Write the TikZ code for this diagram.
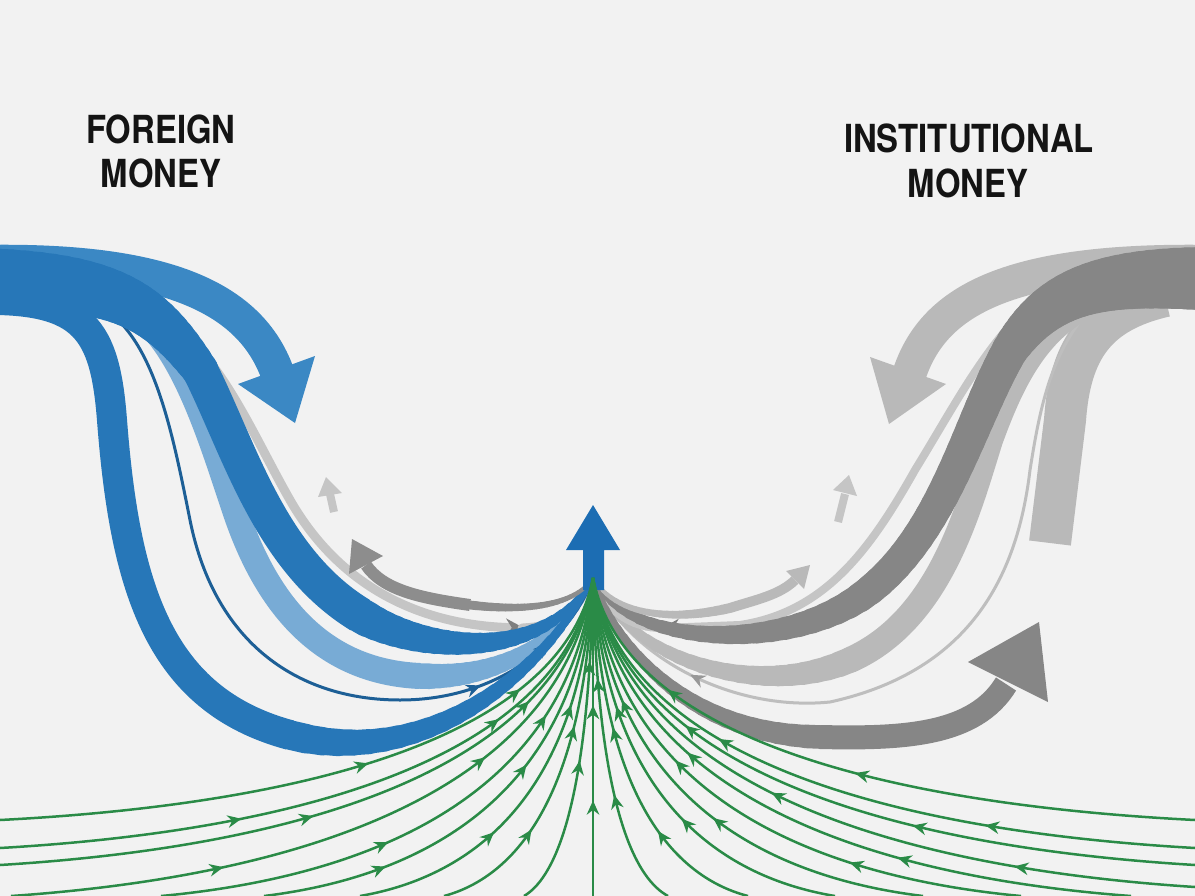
\documentclass[tikz,border=0pt]{standalone}
\usepackage{fontspec}
\newfontfamily\labelfont[FakeStretch=0.85]{TeX Gyre Heros}
\usetikzlibrary{arrows.meta, decorations.markings}
\usepackage{xcolor}

\definecolor{paper}{HTML}{F2F2F2}
\definecolor{ink}{HTML}{141414}
\definecolor{blueTop}{HTML}{3B88C4}
\definecolor{blueDeep}{HTML}{2777B8}
\definecolor{blueSoft}{HTML}{78ABD5}
\definecolor{blueLine}{HTML}{1D5F96}
\definecolor{blueUp}{HTML}{1C6DB3}
\definecolor{greySoft}{HTML}{C5C5C5}
\definecolor{greyThin}{HTML}{BEBEBE}
\definecolor{greyMid}{HTML}{8D8D8D}
\definecolor{greyPale}{HTML}{B9B9B9}
\definecolor{greyDeep}{HTML}{868686}
\definecolor{tipGrey}{HTML}{7F7F7F}
\definecolor{flowGreen}{HTML}{2A8B47}

% band whose width runs from #2 to #3 (pixels) along one curve #4
\newcommand{\flowseg}[4]{%
  \foreach \k in {1,...,24}{%
    \pgfmathsetmacro{\ta}{(\k-1)/24}%
    \pgfmathsetmacro{\tb}{\k/24}%
    \pgfmathsetmacro{\wk}{0.2*(#2+(#3-#2)*(\k-0.5)/24)}%
    \path #4 coordinate[pos=\ta] (fa) coordinate[pos=\tb] (fb);%
    \draw[#1, line width=\wk mm, line cap=round] (fa) -- (fb);%
  }}

\begin{document}
\begin{tikzpicture}[x=0.2mm, y=-0.2mm,
        wpx/.style={line width=#1*0.2mm},
        headline/.style={font={\labelfont\bfseries\fontsize{22}{26}\selectfont}, text=ink, inner sep=0pt, anchor=base},
        flowtip/.tip={Stealth[length=2.8mm, width=2.5mm]},
        twotips/.style n args={3}{decoration={markings, mark=at position #1 with {\arrow{#3}}, mark=at position #2 with {\arrow{#3}}}, postaction={decorate}},
        onetip/.style 2 args={decoration={markings, mark=at position #1 with {\arrow{#2}}}, postaction={decorate}},
        greenflow/.style 2 args={flowGreen, line width=0.5mm, twotips={#1}{#2}{flowtip}}
    ]
        \useasboundingbox (0,0) rectangle (1195,896);
        \fill[paper] (0,0) rectangle (1195,896);
        \clip (0,0) rectangle (1195,896);
        \coordinate (hub) at (593,578);

        % Institutional side
        \draw[greyPale, wpx=42] (1165,296) .. controls (1095,312) and (1070,350) .. (1065,420) -- (1050,543);
        \draw[greyThin, wpx=3, onetip={0.82}{Stealth[length=3mm, width=2.6mm, color=greyThin!80!black]}] (1083,318) .. controls (1048,360) and (1038,420) .. (1030,470) .. controls (1018,570) and (975,670) .. (830,702) .. controls (730,712) and (625,655) .. (hub);
        \draw[greyPale, wpx=26, line cap=round] (1088,305) .. controls (1035,330) and (1010,385) .. (990,440) .. controls (968,510) and (940,620) .. (850,660);
        \flowseg{greyPale}{26}{4}{(850,660) .. controls (760,700) and (630,662) .. (hub)}
        \draw[greySoft, wpx=8, -{Stealth[length=3.4mm, width=3.4mm, color=tipGrey]}] (1035,300) .. controls (985,345) and (955,405) .. (915,470) .. controls (870,550) and (825,612) .. (740,625) -- (662,628);
        \flowseg{greySoft}{8}{3}{(665,628) .. controls (625,630) and (600,605) .. (hub)}
        \draw[greyPale, wpx=34] (1215,262) .. controls (1010,258) and (935,300) .. (910,372);
        \fill[greyPale] (870,357) -- (946,384) -- (889,424) -- cycle;
        \flowseg{greyDeep}{64}{36}{(1215,279) .. controls (1100,275) and (1050,290) .. (1010,350)}
        \flowseg{greyDeep}{36}{30}{(1010,350) .. controls (970,420) and (945,530) .. (870,590)}
        \flowseg{greyDeep}{30}{4}{(870,590) .. controls (790,655) and (625,648) .. (hub)}
        \flowseg{greyPale}{3}{10}{(hub) .. controls (615,615) and (670,622) .. (730,608)}
        \draw[greyPale, wpx=10] (730,608) .. controls (755,600) and (780,595) .. (795,580);
        \fill[greyPale] (786,571) -- (804,589) -- (810,565) -- cycle;
        \flowseg{greyDeep}{4}{24}{(hub) .. controls (620,660) and (700,735) .. (820,737)}
        \draw[greyDeep, wpx=24] (820,737) .. controls (905,739) and (975,735) .. (1006,684);
        \fill[greyDeep] (968,662) -- (1048,702) -- (1039,622) -- cycle;
        \draw[greySoft, wpx=8] (838,522) -- (845,494);
        \fill[greySoft] (833,490) -- (857,496) -- (849,475) -- cycle;

        % Foreign side
        \draw[greySoft, wpx=9, -{Stealth[length=3.6mm, width=3.6mm, color=tipGrey]}] (150,305) .. controls (220,350) and (250,430) .. (290,500) .. controls (330,570) and (400,625) .. (524,628);
        \flowseg{greySoft}{9}{3}{(522,628) .. controls (562,626) and (586,605) .. (hub)}
        \draw[blueSoft, wpx=26] (110,298) .. controls (175,320) and (205,420) .. (235,510) .. controls (270,615) and (330,672) .. (420,676);
        \flowseg{blueSoft}{26}{4}{(420,676) .. controls (500,680) and (565,640) .. (hub)}
        \draw[blueLine, wpx=3, twotips={0.8}{0.9}{Stealth[length=3mm, width=2.6mm]}] (85,300) .. controls (150,320) and (170,420) .. (190,520) .. controls (215,645) and (300,700) .. (400,700) .. controls (500,700) and (570,640) .. (hub);
        \draw[blueDeep, wpx=30] (-20,300) .. controls (85,298) and (105,330) .. (112,420) .. controls (125,590) and (160,700) .. (290,735);
        \flowseg{blueDeep}{30}{4}{(290,735) .. controls (420,770) and (540,680) .. (hub)}
        \draw[blueTop, wpx=34] (-20,262) .. controls (170,258) and (250,300) .. (277,372);
        \fill[blueTop] (238,384) -- (315,356) -- (295,423) -- cycle;
        \flowseg{blueDeep}{64}{36}{(-20,280) .. controls (110,280) and (150,300) .. (200,370)}
        \draw[blueDeep, wpx=36] (200,370) .. controls (240,450) and (270,560) .. (360,615);
        \flowseg{blueDeep}{36}{4}{(360,615) .. controls (420,652) and (545,665) .. (hub)}
        \flowseg{greyMid}{3}{9}{(hub) .. controls (575,605) and (530,612) .. (470,605)}
        \draw[greyMid, wpx=12] (470,605) .. controls (420,598) and (383,590) .. (366,565);
        \fill[greyMid] (349,574) -- (383,556) -- (352,539) -- cycle;
        \draw[greySoft, wpx=8] (334,512) -- (330,494);
        \fill[greySoft] (318,497) -- (342,493) -- (326,477) -- cycle;

        % Centre arrow
        \fill[blueUp] (583,590) -- (583,550) -- (566,550) -- (593,505) -- (620,550) -- (604,550) -- (604,590) -- cycle;

        % Green inflow
        \foreach \ex/\ey/\ma/\mb in {0/820/0.55/0.8, 0/848/0.35/0.75, 0/865/0.45/0.8, 11/896/0.3/0.7, 161/896/0.4/0.75,
                264/896/0.25/0.6, 360/896/0.35/0.7, 444/896/0.3/0.6, 524/896/0.45/0.75, 593/896/0.3/0.6,
                668/896/0.35/0.7, 748/896/0.3/0.6, 835/896/0.4/0.7, 923/896/0.45/0.75, 1021/896/0.3/0.65,
                1131/896/0.35/0.7, 1195/887/0.25/0.6, 1195/865/0.4/0.75, 1195/848/0.3/0.7, 1195/820/0.5/0.8}{
            \draw[greenflow={\ma}{\mb}] (\ex,\ey) .. controls ({593+0.6*(\ex-593)},{\ey-0.05*(\ey-575)}) and ({593+0.06*(\ex-593)},{575+0.75*(\ey-575)}) .. (hub);
        }

        % Labels
        \node[headline] (foreign) at (161,143) {FOREIGN};
        \node[headline] (foreignmoney) at (161,187) {MONEY};
        \node[headline] (institutional) at (969,152) {INSTITUTIONAL};
        \node[headline] (institutionalmoney) at (968,197) {MONEY};
    \end{tikzpicture}
\end{document}
